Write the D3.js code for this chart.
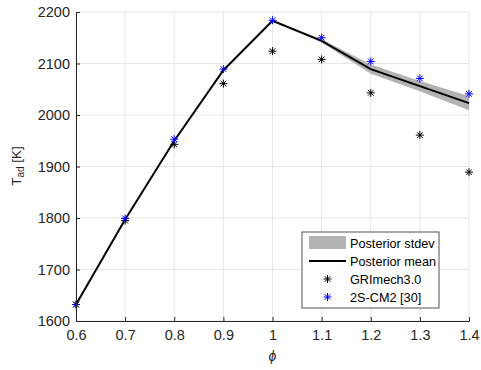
<!DOCTYPE html>
<html>
<head>
<meta charset="utf-8">
<script src="https://cdn.jsdelivr.net/npm/d3@7"></script>
<style>
  body { margin: 0; background: #fff; }
  text { font-family: "Liberation Sans", Arial, sans-serif; }
</style>
</head>
<body>
<div id="chart"></div>
<script>
var phi = [0.6, 0.7, 0.8, 0.9, 1.0, 1.1, 1.2, 1.3, 1.4];
var postMean = [1632, 1797, 1950, 2087, 2183, 2144, 2089, 2056, 2023];
var postStd = [0, 0, 0, 0, 0, 3, 9, 10, 14];
var griMech = [1632, 1795, 1943, 2061, 2124, 2108, 2043, 1961, 1889];
var cm2 = [1632, 1799, 1953, 2089, 2184, 2150, 2104, 2071, 2041];
var xTicks = [0.6, 0.7, 0.8, 0.9, 1, 1.1, 1.2, 1.3, 1.4];
var yTicks = [1600, 1700, 1800, 1900, 2000, 2100, 2200];

var width = 481, height = 370;
var margin = {left: 76, right: 12, top: 12, bottom: 49};

var svg = d3.select("#chart").append("svg")
  .attr("width", width)
  .attr("height", height);

var x = d3.scaleLinear()
  .domain([0.6, 1.4])
  .range([margin.left, width - margin.right]);

var y = d3.scaleLinear()
  .domain([1600, 2200])
  .range([height - margin.bottom, margin.top]);

// grid
svg.append("g").selectAll("line")
  .data(xTicks)
  .enter().append("line")
  .attr("x1", d => x(d)).attr("x2", d => x(d))
  .attr("y1", y(1600)).attr("y2", y(2200))
  .attr("stroke", "#e6e6e6");

svg.append("g").selectAll("line")
  .data(yTicks)
  .enter().append("line")
  .attr("x1", x(0.6)).attr("x2", x(1.4))
  .attr("y1", d => y(d)).attr("y2", d => y(d))
  .attr("stroke", "#e6e6e6");

// stdev band
var rows = phi.map((p, i) => ({p: p, m: postMean[i], s: postStd[i]}));
var band = rows.filter(d => d.p >= 1.0);

svg.append("path")
  .datum(band)
  .attr("fill", "#b3b3b3")
  .attr("d", d3.area()
    .x(d => x(d.p))
    .y0(d => y(d.m - d.s))
    .y1(d => y(d.m + d.s)));

svg.append("path")
  .datum(rows)
  .attr("fill", "none")
  .attr("stroke", "#000")
  .attr("stroke-width", 2)
  .attr("d", d3.line().x(d => x(d.p)).y(d => y(d.m)));

// asterisk marker
function star(r) {
  var a = r * 0.707;
  return "M0," + (-r) + "V" + r + "M" + (-r) + ",0H" + r +
    "M" + (-a) + "," + (-a) + "L" + a + "," + a +
    "M" + (-a) + "," + a + "L" + a + "," + (-a);
}

svg.append("g").selectAll("path")
  .data(phi.map((p, i) => [p, griMech[i]]))
  .enter().append("path")
  .attr("transform", d => "translate(" + x(d[0]) + "," + y(d[1]) + ")")
  .attr("d", star(4))
  .attr("stroke", "#000")
  .attr("fill", "none");

svg.append("g").selectAll("path")
  .data(phi.map((p, i) => [p, cm2[i]]))
  .enter().append("path")
  .attr("transform", d => "translate(" + x(d[0]) + "," + y(d[1]) + ")")
  .attr("d", star(4))
  .attr("stroke", "#0000ff")
  .attr("fill", "none");

// axes
var xAxis = svg.append("g")
  .attr("transform", "translate(0," + y(1600) + ")")
  .call(d3.axisBottom(x).tickValues(xTicks).tickSizeInner(-4).tickSizeOuter(0).tickPadding(9)
    .tickFormat(d3.format("")));

var yAxis = svg.append("g")
  .attr("transform", "translate(" + x(0.6) + ",0)")
  .call(d3.axisLeft(y).tickValues(yTicks).tickSizeInner(-4).tickSizeOuter(0).tickPadding(6)
    .tickFormat(d3.format("d")));

[xAxis, yAxis].forEach(function(g) {
  g.select(".domain").attr("stroke", "#262626");
  g.selectAll(".tick line").attr("stroke", "#262626");
  g.selectAll(".tick text")
    .attr("fill", "#262626")
    .style("font-size", "14.5px")
    .style("font-family", "Liberation Sans, Arial, sans-serif");
});

// axis labels
svg.append("text")
  .attr("x", x(1.0))
  .attr("y", 361)
  .attr("text-anchor", "middle")
  .attr("fill", "#262626")
  .style("font-size", "14px")
  .style("font-style", "italic")
  .text("\u03d5");

var yl = svg.append("text")
  .attr("transform", "translate(20.5,166) rotate(-90)")
  .attr("text-anchor", "middle")
  .attr("fill", "#262626")
  .style("font-size", "13.5px");
yl.append("tspan").text("T");
yl.append("tspan").attr("dy", 3.5).style("font-size", "10px").text("ad");
yl.append("tspan").attr("dy", -3.5).text(" [K]");

// legend
var lg = svg.append("g").attr("transform", "translate(302,232)");
lg.append("rect")
  .attr("width", 137).attr("height", 76)
  .attr("fill", "#fff")
  .attr("stroke", "#262626")
  .attr("stroke-width", 0.8);

var legendItems = ["Posterior stdev", "Posterior mean", "GRImech3.0", "2S-CM2 [30]"];
legendItems.forEach(function(t, i) {
  var cy = 11 + i * 18;
  if (i === 0) {
    lg.append("rect").attr("x", 7).attr("y", cy - 7).attr("width", 37).attr("height", 13).attr("fill", "#b3b3b3");
  } else if (i === 1) {
    lg.append("line").attr("x1", 7).attr("x2", 44).attr("y1", cy).attr("y2", cy)
      .attr("stroke", "#000").attr("stroke-width", 2);
  } else {
    lg.append("path").attr("transform", "translate(25.5," + cy + ")")
      .attr("d", star(4))
      .attr("stroke", i === 2 ? "#000" : "#0000ff")
      .attr("fill", "none");
  }
  lg.append("text")
    .attr("x", 48).attr("y", cy + 4.5)
    .attr("fill", "#000")
    .style("font-size", "12.7px")
    .text(t);
});
</script>
</body>
</html>
